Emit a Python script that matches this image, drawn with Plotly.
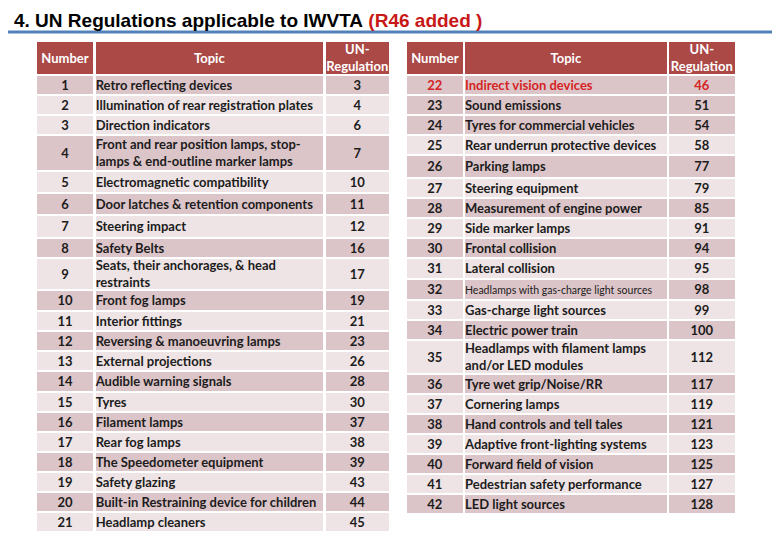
import numpy as np
import plotly.graph_objects as go

# ---------------- data ----------------
left_numbers = [str(i) for i in range(1, 22)]
left_topics = [
    "Retro reflecting devices",
    "Illumination of rear registration plates",
    "Direction indicators",
    "Front and rear position lamps, stop-<br>lamps & end-outline marker lamps",
    "Electromagnetic compatibility",
    "Door latches & retention components",
    "Steering impact",
    "Safety Belts",
    "Seats, their anchorages, & head<br>restraints",
    "Front fog lamps",
    "Interior fittings",
    "Reversing & manoeuvring lamps",
    "External projections",
    "Audible warning signals",
    "Tyres",
    "Filament lamps",
    "Rear fog lamps",
    "The Speedometer equipment",
    "Safety glazing",
    "Built-in Restraining device for children",
    "Headlamp cleaners",
]
left_regs = ["3", "4", "6", "7", "10", "11", "12", "16", "17", "19", "21", "23",
             "26", "28", "30", "37", "38", "39", "43", "44", "45"]

right_numbers = [str(i) for i in range(22, 43)]
right_topics = [
    "Indirect vision devices",
    "Sound emissions",
    "Tyres for commercial vehicles",
    "Rear underrun protective devices",
    "Parking lamps",
    "Steering equipment",
    "Measurement of engine power",
    "Side marker lamps",
    "Frontal collision",
    "Lateral collision",
    "Headlamps with gas-charge light sources",
    "Gas-charge light sources",
    "Electric power train",
    "Headlamps with filament lamps<br>and/or LED modules",
    "Tyre wet grip/Noise/RR",
    "Cornering lamps",
    "Hand controls and tell tales",
    "Adaptive front-lighting systems",
    "Forward field of vision",
    "Pedestrian safety performance",
    "LED light sources",
]
right_regs = ["46", "51", "54", "58", "77", "79", "85", "91", "94", "95", "98",
              "99", "100", "112", "117", "119", "121", "123", "125", "127", "128"]

header = ["Number", "Topic", "UN-<br>Regulation"]
highlighted = ["22"]          # newly added regulation row (R46)
small_topics = ["Headlamps with gas-charge light sources"]

# row banding as in the slide (D = darker pink, L = lighter)
left_band = ["D", "L", "L", "D", "L", "D", "L", "D", "L", "D", "L",
             "D", "L", "D", "L", "D", "L", "D", "L", "D", "L"]
right_band = ["D", "D", "D", "L", "D", "L", "D", "L", "D", "L", "D",
              "L", "D", "L", "D", "L", "D", "L", "D", "L", "D"]

# ---------------- layout / style ----------------
W, H = 780, 540
OFF = 8   # page body margin of the html page
DARK = "#dcc5c8"
LIGHT = "#efe4e5"
HEAD = "#ab4947"
TXT = "#1c1c1c"
RED = "#d42424"
FONT = "Lato"
TXT_DY = 1.5  # text baseline nudge inside cells

# column extents (px) and row heights (px) of each table
left_cols = [(37, 93), (95.7, 323), (326, 388.5)]
right_cols = [(407, 462.7), (465, 666.7), (669, 734.5)]
left_heights = [20, 20, 20, 36, 22, 22, 23, 20, 32, 21, 20, 20, 20, 21,
                20, 20, 20, 20, 20, 20, 20]
right_heights = [20, 20, 20, 20, 23, 20, 20, 20, 20, 21, 21, 20, 20, 34,
                 20, 20, 20, 20, 20, 20, 20]
HEADER_TOP, HEADER_H, GAP = 40.5, 34.5, 2.4

fig = go.Figure()


def add_table(cols, heights, numbers, topics, regs, band):
    heights = np.array(heights, dtype=float)
    top = HEADER_TOP + HEADER_H
    edges = top + np.concatenate([[0], np.cumsum(heights)])
    centers = (edges[:-1] + edges[1:]) / 2
    tcenters = centers + TXT_DY
    fills = [DARK if b == "D" else LIGHT for b in band]
    n = len(numbers)

    # header cells
    hc = HEADER_TOP + HEADER_H / 2
    fig.add_trace(go.Bar(
        orientation="h",
        y=[hc] * 3, base=[c[0] for c in cols], x=[c[1] - c[0] for c in cols],
        width=[HEADER_H - GAP] * 3,
        marker=dict(color=HEAD, line=dict(width=0)),
        hoverinfo="skip",
    ))
    fig.add_trace(go.Scatter(
        x=[(c[0] + c[1]) / 2 for c in cols], y=[hc + TXT_DY] * 3,
        mode="text", text=["<b>" + h + "</b>" for h in header],
        textposition="middle center",
        textfont=dict(family=FONT, size=13, color="white"),
        hoverinfo="skip",
    ))

    # body cells
    for c in cols:
        fig.add_trace(go.Bar(
            orientation="h",
            y=centers, base=[c[0]] * n, x=[c[1] - c[0]] * n,
            width=heights - GAP,
            marker=dict(color=fills, line=dict(width=0)),
            hoverinfo="skip",
        ))

    colors = [RED if num in highlighted else TXT for num in numbers]
    topic_text = []
    topic_size = []
    for t in topics:
        if t in small_topics:
            topic_text.append(t)
            topic_size.append(10.5)
        else:
            topic_text.append("<b>" + t + "</b>")
            topic_size.append(13)

    fig.add_trace(go.Scatter(
        x=[(cols[0][0] + cols[0][1]) / 2] * n, y=tcenters,
        mode="text", text=["<b>" + s + "</b>" for s in numbers],
        textposition="middle center",
        textfont=dict(family=FONT, size=13, color=colors),
        hoverinfo="skip",
    ))
    fig.add_trace(go.Scatter(
        x=[cols[1][0]] * n, y=tcenters,
        mode="text", text=topic_text,
        textposition="middle right",
        textfont=dict(family=FONT, size=topic_size, color=colors),
        hoverinfo="skip",
    ))
    fig.add_trace(go.Scatter(
        x=[(cols[2][0] + cols[2][1]) / 2] * n, y=tcenters,
        mode="text", text=["<b>" + s + "</b>" for s in regs],
        textposition="middle center",
        textfont=dict(family=FONT, size=13, color=colors),
        hoverinfo="skip",
    ))


add_table(left_cols, left_heights, left_numbers, left_topics, left_regs, left_band)
add_table(right_cols, right_heights, right_numbers, right_topics, right_regs, right_band)

# title
fig.add_annotation(
    x=12, y=33, xref="x", yref="y",
    xanchor="left", yanchor="bottom", showarrow=False,
    text="<b>4. UN Regulations applicable to IWVTA</b> <span style='color:#c81818'><b>(R46 added )</b></span>",
    font=dict(family="Liberation Sans, Arial", size=19, color="black"),
)
fig.add_shape(type="line", xref="x", yref="y",
              x0=2, x1=W, y0=32, y1=32,
              line=dict(color="#5281b8", width=3))

fig.update_layout(
    width=W, height=H,
    margin=dict(l=0, r=0, t=0, b=0),
    paper_bgcolor="white",
    plot_bgcolor="white",
    showlegend=False,
    barmode="overlay",
    bargap=0,
    xaxis=dict(range=[OFF, W + OFF], visible=False, fixedrange=True),
    yaxis=dict(range=[H + OFF, OFF], visible=False, fixedrange=True),
)

fig.write_html("out.html")
